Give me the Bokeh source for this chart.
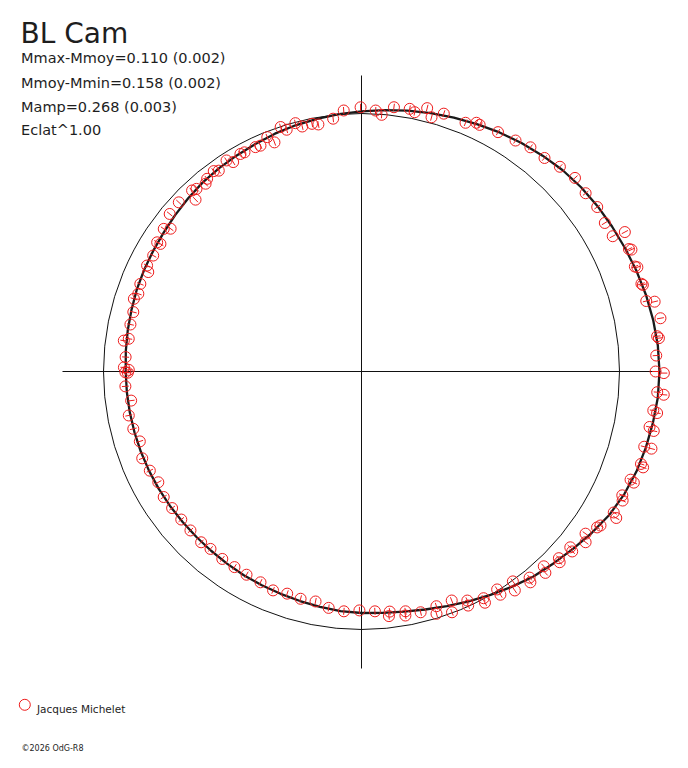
import numpy as np
from bokeh.plotting import figure
from bokeh.models import Range1d, Label
from bokeh.embed import file_html
from bokeh.resources import INLINE

# ---------------- texts ----------------
star_name = "BL Cam"
info_lines = ["Mmax-Mmoy=0.110 (0.002)",
              "Mmoy-Mmin=0.158 (0.002)",
              "Mamp=0.268 (0.003)",
              "Eclat^1.00"]
observer = "Jacques Michelet"
credit = "\u00a92026 OdG-R8"

# ---------------- data ----------------
# phase angle (degrees, clockwise from top) and brightness radius (mean = 1)
phase_deg = [
    3.1, 4.5, 7.0, 10.4, 11.6, 14.0, 15.4, 17.7, 22.7, 24.8,
    25.6, 29.7, 33.7, 37.0, 40.6, 44.1, 47.8, 51.5, 55.1, 58.6,
    61.7, 62.1, 65.4, 65.7, 69.0, 69.3, 72.6, 72.9, 76.1, 76.6,
    79.9, 83.2, 83.6, 86.9, 90.0, 90.3, 94.0, 94.4, 97.6, 98.0,
    100.9, 101.5, 104.9, 104.9, 108.3, 108.8, 111.9, 112.2, 115.4, 116.3,
    119.2, 119.9, 123.5, 122.8, 125.9, 127.3, 130.1, 130.5, 133.4, 133.9,
    136.9, 137.6, 140.8, 141.3, 144.2, 145.0, 148.1, 148.1, 151.7, 151.9,
    155.2, 155.5, 158.5, 159.4, 162.3, 162.8, 166.2, 169.6, 169.8, 173.3,
    173.6, 176.8, 180.5, 184.2, 187.9, 191.3, 195.0, 198.5, 202.0, 205.6,
    209.5, 213.0, 216.6, 220.4, 223.2, 227.1, 230.6, 234.2, 237.6, 241.4,
    244.9, 248.4, 252.5, 255.9, 259.3, 262.8, 266.4, 269.8, 269.7, 271.0,
    270.4, 273.5, 277.4, 278.0, 281.5, 284.6, 287.7, 289.2, 291.6, 296.3,
    295.0, 299.1, 302.3, 302.4, 305.8, 306.8, 309.4, 312.8, 316.0, 316.9,
    317.9, 320.3, 321.3, 323.6, 324.6, 327.4, 328.5, 330.9, 331.9, 334.7,
    335.9, 338.1, 339.2, 341.7, 342.8, 345.1, 346.4, 348.7, 350.1, 353.6, 356.1,
    359.8,
]
brightness = [
    1.013, 0.998, 1.032, 1.035, 1.026, 1.052, 1.022, 1.049, 1.045, 1.062,
    1.060, 1.068, 1.076, 1.088, 1.090, 1.105, 1.117, 1.110, 1.114, 1.105,
    1.106, 1.155, 1.140, 1.148, 1.135, 1.143, 1.137, 1.141, 1.137, 1.168,
    1.177, 1.154, 1.160, 1.144, 1.140, 1.172, 1.149, 1.175, 1.141, 1.157,
    1.137, 1.156, 1.134, 1.163, 1.141, 1.153, 1.124, 1.140, 1.119, 1.129,
    1.120, 1.139, 1.095, 1.102, 1.072, 1.092, 1.058, 1.074, 1.053, 1.066,
    1.034, 1.057, 1.031, 1.047, 1.003, 1.036, 0.995, 1.019, 0.998, 1.016,
    0.978, 0.997, 0.954, 0.997, 0.955, 0.983, 0.961, 0.945, 0.961, 0.937,
    0.954, 0.931, 0.926, 0.932, 0.925, 0.909, 0.912, 0.908, 0.915, 0.906,
    0.905, 0.904, 0.905, 0.903, 0.908, 0.905, 0.904, 0.905, 0.908, 0.897,
    0.906, 0.914, 0.901, 0.912, 0.918, 0.900, 0.917, 0.915, 0.906, 0.921,
    0.902, 0.916, 0.929, 0.911, 0.914, 0.914, 0.926, 0.916, 0.922, 0.927,
    0.912, 0.924, 0.937, 0.923, 0.945, 0.924, 0.962, 0.965, 0.926, 0.961,
    0.954, 0.946, 0.957, 0.965, 0.955, 0.971, 0.952, 0.965, 0.963, 0.962,
    0.959, 0.979, 0.950, 0.998, 0.981, 0.996, 0.977, 0.979, 0.972, 0.986, 1.014,
    1.024,
]

# fitted mean light curve, read every 5 degrees
curve_phase_deg = list(range(0, 360, 5))
curve_brightness = [
    1.008, 1.017, 1.027, 1.037, 1.047, 1.058, 1.070, 1.081, 1.092, 1.103,
    1.111, 1.117, 1.122, 1.128, 1.135, 1.142, 1.148, 1.153, 1.155, 1.153,
    1.147, 1.141, 1.134, 1.124, 1.110, 1.090, 1.070, 1.052, 1.037, 1.018,
    1.000, 0.983, 0.968, 0.955, 0.945, 0.939, 0.936, 0.932, 0.926, 0.921,
    0.917, 0.914, 0.912, 0.909, 0.907, 0.906, 0.906, 0.907, 0.908, 0.909,
    0.910, 0.911, 0.912, 0.913, 0.914, 0.917, 0.920, 0.923, 0.927, 0.930,
    0.933, 0.937, 0.943, 0.950, 0.957, 0.962, 0.967, 0.973, 0.981, 0.988,
    0.994, 1.001,
]

mean_level = 1.0

# ---------------- layout ----------------
W, H = 672, 752
PX = 258.0             # pixels per unit radius
CX, CY = 361.0, 371.0  # centre of the polar plot inside the figure (px)


def img(ix, iy):
    """picture pixel -> data coordinates"""
    return (ix - CX) / PX, (CY - iy) / PX


p = figure(width=W, height=H, output_backend="svg", toolbar_location=None,
           x_range=Range1d(-CX / PX, (W - CX) / PX),
           y_range=Range1d(-(H - CY) / PX, CY / PX),
           x_axis_type=None, y_axis_type=None, min_border=0,
           outline_line_color=None, background_fill_color="white",
           border_fill_color="white")
p.grid.visible = False

# cross-hair axes
p.segment(x0=[-299.0 / PX, 0], y0=[0, 296.0 / PX],
          x1=[299.0 / PX, 0], y1=[0, -297.0 / PX],
          line_color="#111111", line_width=1)

# mean brightness circle
p.circle(x=[0], y=[0], radius=mean_level, fill_color=None,
         line_color="#111111", line_width=1)

# fitted curve
cth = np.deg2rad(np.array(curve_phase_deg + [curve_phase_deg[0] + 360]))
cr = np.array(curve_brightness + [curve_brightness[0]])
p.line(cr * np.sin(cth), cr * np.cos(cth), line_color="#1a1a1a",
       line_width=2.3, line_join="round")

# observations
th = np.deg2rad(np.array(phase_deg))
r = np.array(brightness)
xs, ys = r * np.sin(th), r * np.cos(th)
e = 3.5 / PX
p.segment(x0=(r - e) * np.sin(th), y0=(r - e) * np.cos(th),
          x1=(r + e) * np.sin(th), y1=(r + e) * np.cos(th),
          line_color="#ee1c1c", line_width=1)
p.scatter(xs, ys, marker="circle", size=11, fill_color=None,
          line_color="#ee1c1c", line_width=1)

# texts
FONT = "DejaVu Sans"
TXT = "#1e1e1e"
x0, y0 = img(20.0, 33.3)
p.add_layout(Label(x=x0, y=y0, text=star_name, text_font=FONT,
                   text_font_size="28px", text_color=TXT,
                   text_baseline="alphabetic"))
for line, base in zip(info_lines, [57.3, 82.3, 106.8, 129.5]):
    lx, ly = img(20.5, base)
    p.add_layout(Label(x=lx, y=ly, text=line, text_font=FONT,
                       text_font_size="14.5px", text_color=TXT,
                       text_baseline="alphabetic"))

# legend
gx, gy = img(24.3, 704.3)
p.scatter([gx], [gy], marker="circle", size=11, fill_color=None,
          line_color="#ee1c1c", line_width=1)
tx, ty = img(36.5, 708.7)
p.add_layout(Label(x=tx, y=ty, text=observer, text_font=FONT,
                   text_font_size="10.5px", text_color=TXT,
                   text_baseline="alphabetic"))

# credit (kept inside the figure's bottom edge)
cx_, cy_ = img(21.0, 748.0)
p.add_layout(Label(x=cx_, y=cy_, text=credit, text_font=FONT,
                   text_font_size="8px", text_color=TXT,
                   text_baseline="alphabetic"))

open("out.html", "w").write(file_html(p, INLINE, "BL Cam"))
